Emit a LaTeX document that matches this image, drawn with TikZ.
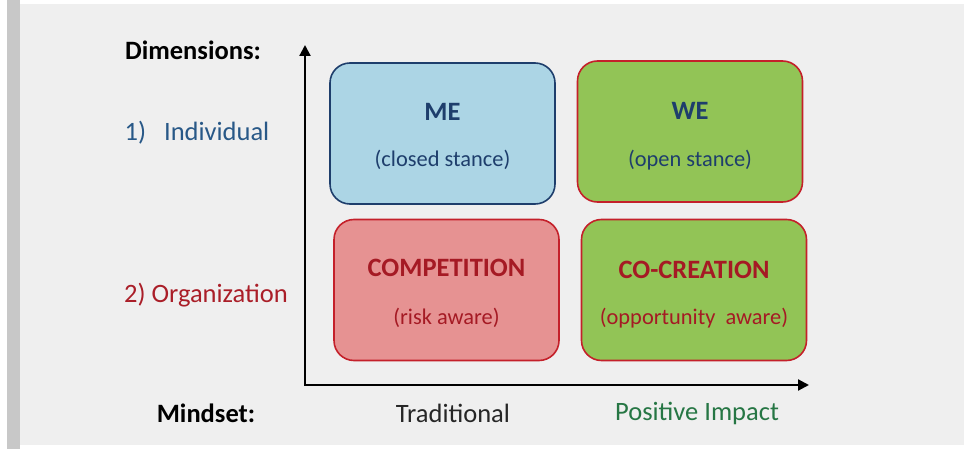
\documentclass[tikz,border=0pt]{standalone}
\usepackage{fontspec}
\setmainfont{Carlito}
\usetikzlibrary{arrows.meta,positioning}
\definecolor{bggray}{RGB}{239,239,239}
\definecolor{stripgray}{RGB}{200,200,200}
\definecolor{meblue}{RGB}{172,213,229}
\definecolor{darkblue}{RGB}{30,62,108}
\definecolor{wegreen}{RGB}{146,196,86}
\definecolor{boxred}{RGB}{196,32,42}
\definecolor{compred}{RGB}{230,146,146}
\definecolor{textred}{RGB}{165,26,36}
\definecolor{indblue}{RGB}{40,88,135}
\definecolor{orgred}{RGB}{170,30,40}
\definecolor{impactgreen}{RGB}{38,118,68}

\begin{document}
\begin{tikzpicture}[x=1pt, y=-1pt,
    quad/.style={rectangle, rounded corners=20pt, line width=1.6pt, minimum width=225pt, minimum height=141pt},
    title/.style={font=\fontsize{26.5}{30}\selectfont\bfseries},
    sub/.style={font=\fontsize{22.4}{26}\selectfont},
    lbl/.style={font=\fontsize{26.5}{30}\selectfont}]
    % background
    \fill[white] (0,0) rectangle (964,449);
    \fill[stripgray] (7,0) rectangle (20,449);
    \fill[bggray] (20,4) rectangle (964,445);
    \useasboundingbox (0,0) rectangle (964,449);

    % axes
    \coordinate (origin) at (305,385);
    \coordinate (ytip) at (305,45);
    \coordinate (xtip) at (809,385);
    \draw[line width=2.2pt, {Triangle[width=11pt,length=11pt]}-{Triangle[width=11pt,length=11pt]}] (ytip) -- (origin) -- (xtip);

    % quadrants
    \node[quad, draw=darkblue, fill=meblue] (me) at (442.5,133.5) {};
    \node[quad, draw=boxred, fill=wegreen] (we) at (690,131.5) {};
    \node[quad, draw=boxred, fill=compred] (comp) at (446.5,290) {};
    \node[quad, draw=boxred, fill=wegreen] (cocr) at (694,290) {};

    \node[title, text=darkblue] (meT) at (442.5,112) {ME};
    \node[sub, text=darkblue] (meS) at (442.5,160) {(closed stance)};
    \node[title, text=darkblue] (weT) at (690,111) {WE};
    \node[sub, text=darkblue] (weS) at (690,160) {(open stance)};
    \node[title, text=textred] (compT) at (446.5,268) {COMPETITION};
    \node[sub, text=textred] (compS) at (446.5,318) {(risk aware)};
    \node[title, text=textred] (cocrT) at (694,270) {CO-CREATION};
    \node[sub, text=textred] (cocrS) at (694,318) {(opportunity\ \ aware)};

    % labels
    \node[lbl, font=\fontsize{26.5}{30}\selectfont\bfseries] (dim) at (193,50) {Dimensions:};
    \node[lbl, text=indblue] (ind) at (197,133) {1)\ \ \ Individual};
    \node[lbl, text=orgred] (org) at (206,295) {2) Organization};
    \node[lbl, font=\fontsize{26.5}{30}\selectfont\bfseries] (mind) at (206,413) {Mindset:};
    \node[lbl, text=black!85] (trad) at (453,413) {Traditional};
    \node[lbl, text=impactgreen] (pos) at (697,413) {Positive Impact};
\end{tikzpicture}
\end{document}
